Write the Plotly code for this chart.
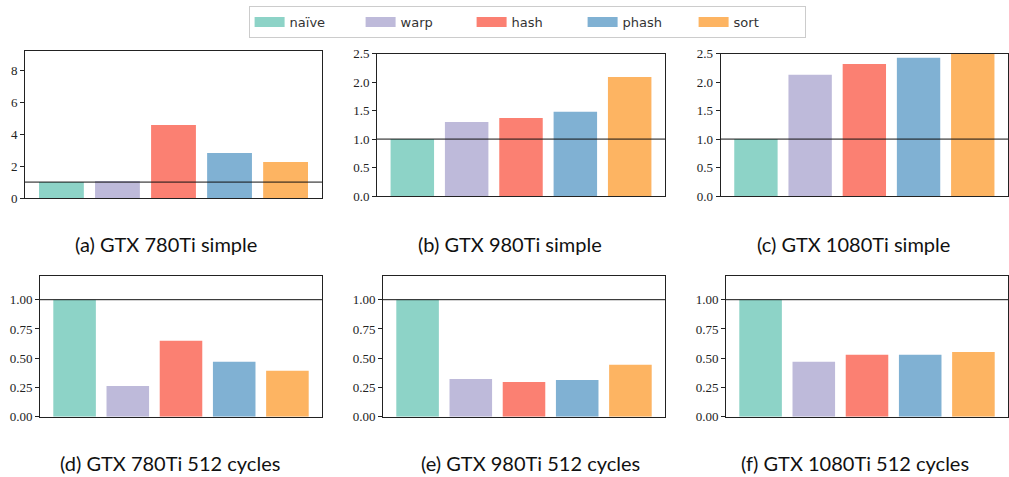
import plotly.graph_objects as go

# ---------------- data ----------------
methods = ["naïve", "warp", "hash", "phash", "sort"]
colors = ["#8dd3c7", "#bebada", "#fb8072", "#80b1d3", "#fdb462"]

simple_780 = [1.0, 1.07, 4.59, 2.83, 2.26]
simple_980 = [1.0, 1.30, 1.37, 1.48, 2.09]
simple_1080 = [1.0, 2.13, 2.32, 2.43, 2.60]
cycles_780 = [1.0, 0.263, 0.649, 0.469, 0.392]
cycles_980 = [1.0, 0.323, 0.297, 0.314, 0.443]
cycles_1080 = [1.0, 0.469, 0.529, 0.529, 0.554]

captions = [
    "(a) GTX 780Ti simple", "(b) GTX 980Ti simple", "(c) GTX 1080Ti simple",
    "(d) GTX 780Ti 512 cycles", "(e) GTX 980Ti 512 cycles", "(f) GTX 1080Ti 512 cycles",
]
baseline = 1.0
ticks_a = [0, 2, 4, 6, 8]
ticks_bc = [0, 0.5, 1.0, 1.5, 2.0, 2.5]
ticks_bottom = [0, 0.25, 0.5, 0.75, 1.0]

series = [simple_780, simple_980, simple_1080, cycles_780, cycles_980, cycles_1080]

# ---------------- layout geometry (pixels) ----------------
W, H = 1009, 477
# (left, right, top, bottom) of each plot area
boxes = [
    (25, 322, 51, 198),
    (377, 665, 53.7, 196),
    (720.7, 1008, 53.7, 196),
    (40, 322, 276.3, 416.7),
    (383, 665, 276.3, 416.7),
    (726, 1008, 276.3, 416.7),
]
yranges = [[0, 9.24], [0, 2.5], [0, 2.5], [0, 1.2], [0, 1.2], [0, 1.2]]
ytickvals = [ticks_a, ticks_bc, ticks_bc, ticks_bottom, ticks_bottom, ticks_bottom]
ytickfmt = ["d", ".1f", ".1f", ".2f", ".2f", ".2f"]
caption_pos = [(166, 244), (510, 244), (853, 244), (170, 463), (530, 463), (855, 463)]

fig = go.Figure()
x_idx = list(range(len(methods)))

for i, vals in enumerate(series):
    sfx = "" if i == 0 else str(i + 1)
    fig.add_trace(go.Bar(
        x=x_idx, y=vals, width=0.8,
        marker=dict(color=colors, line=dict(width=0)),
        xaxis="x" + sfx, yaxis="y" + sfx, showlegend=False,
        hoverinfo="skip",
    ))

# legend entries
for m, c in zip(methods, colors):
    fig.add_trace(go.Scatter(
        x=[None], y=[None], mode="lines", name=m,
        line=dict(color=c, width=12), xaxis="x", yaxis="y",
    ))

layout = dict(
    width=W, height=H,
    margin=dict(l=0, r=0, t=0, b=0, autoexpand=False),
    paper_bgcolor="white", plot_bgcolor="white",
    showlegend=True,
    legend=dict(
        orientation="h", x=248.6 / W, y=1 - 6 / H, xanchor="left", yanchor="top",
        bordercolor="#cccccc", borderwidth=1,
        entrywidth=66, entrywidthmode="pixels",
        font=dict(family="DejaVu Sans", size=13, color="#333333"),
        bgcolor="white",
    ),
    shapes=[], annotations=[],
)

for i, (l, r, t, b) in enumerate(boxes):
    sfx = "" if i == 0 else str(i + 1)
    layout["xaxis" + sfx] = dict(
        domain=[l / W, r / W], range=[-0.65, 4.65],
        showticklabels=False, ticks="", showgrid=False, zeroline=False,
        showline=True, mirror=True, linecolor="#222222", linewidth=1,
        anchor="y" + sfx, fixedrange=True, automargin=False,
    )
    layout["yaxis" + sfx] = dict(
        domain=[1 - b / H, 1 - t / H], range=yranges[i],
        tickvals=ytickvals[i], tickformat=ytickfmt[i],
        ticks="outside", ticklen=4, tickwidth=1, tickcolor="#222222",
        showgrid=False, zeroline=False,
        showline=True, mirror=True, linecolor="#222222", linewidth=1,
        tickfont=dict(family="Liberation Serif", size=13, color="#222222"),
        anchor="x" + sfx, fixedrange=True, automargin=False,
    )
    layout["shapes"].append(dict(
        type="line", xref="x" + sfx + " domain", x0=0, x1=1,
        yref="y" + sfx, y0=baseline, y1=baseline,
        line=dict(color="#111111", width=1),
    ))
    cx, cy = caption_pos[i]
    layout["annotations"].append(dict(
        text=captions[i], x=cx / W, y=1 - cy / H, xref="paper", yref="paper",
        xanchor="center", yanchor="middle", showarrow=False,
        font=dict(family="Lato", size=20, color="#111111"),
    ))

fig.update_layout(**layout)
fig.write_html("out.html")
